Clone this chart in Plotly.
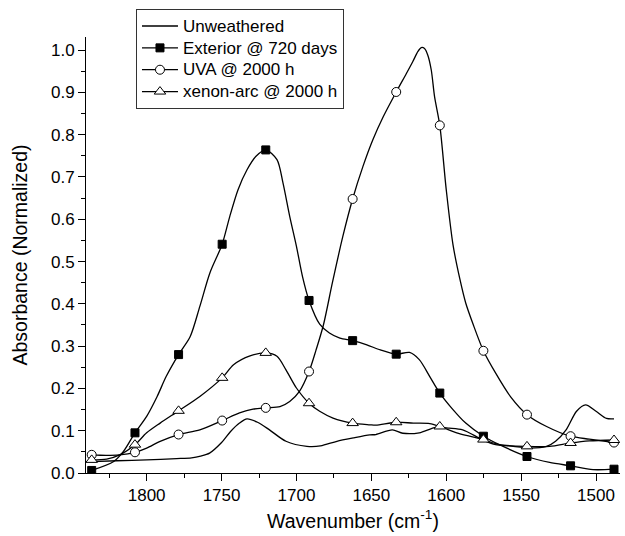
import plotly.graph_objects as go

# ---- data ----
unw_x = [1836.7, 1820, 1800, 1780, 1770, 1764, 1758, 1750, 1744, 1738, 1733, 1726, 1718, 1707,
         1693, 1684, 1673, 1662, 1651, 1647, 1636, 1629, 1618, 1607, 1598, 1589, 1576, 1567,
         1558, 1544, 1533, 1527, 1520, 1513, 1507, 1500, 1493, 1488]
unw_y = [0.027, 0.029, 0.031, 0.034, 0.036, 0.040, 0.047, 0.072, 0.098, 0.118, 0.128, 0.120, 0.102, 0.075,
         0.063, 0.064, 0.075, 0.083, 0.090, 0.091, 0.102, 0.094, 0.095, 0.108, 0.106, 0.102, 0.079, 0.067,
         0.064, 0.059, 0.063, 0.075, 0.102, 0.146, 0.161, 0.146, 0.129, 0.128]

ext_x = [1836.7, 1822, 1815.5, 1807.8, 1800, 1793, 1787, 1778.7, 1771, 1764.5, 1757.8, 1749.6, 1744.5,
         1739, 1733, 1727, 1720.5, 1713, 1709, 1704.5, 1700, 1696, 1691.6, 1684.5, 1678, 1671,
         1662.5, 1653, 1644, 1633.4, 1624.5, 1618, 1611, 1604.3, 1595.5, 1587, 1575.2, 1564.5,
         1546.1, 1531, 1517.0, 1502, 1488.0]
ext_y = [0.006, 0.027, 0.051, 0.095, 0.134, 0.181, 0.228, 0.280, 0.322, 0.394, 0.473, 0.541, 0.607,
         0.670, 0.717, 0.749, 0.764, 0.741, 0.686, 0.607, 0.536, 0.465, 0.408, 0.352, 0.331, 0.319,
         0.313, 0.303, 0.291, 0.281, 0.285, 0.268, 0.228, 0.189, 0.150, 0.118, 0.087, 0.067,
         0.039, 0.025, 0.017, 0.008, 0.009]

uva_x = [1836.7, 1831, 1818, 1807.8, 1800, 1791, 1778.7, 1764.5, 1749.6, 1738, 1729, 1720.5, 1711,
         1704.5, 1698, 1691.6, 1687, 1682, 1676, 1669, 1662.5, 1655.6, 1649, 1642, 1633.4, 1626.7,
         1622.3, 1618.9, 1616.7, 1614.5, 1612.3, 1610, 1607.8, 1604.3, 1600, 1595.5, 1591, 1587,
         1582, 1575.2, 1567, 1557, 1546.1, 1533, 1517.0, 1504.5, 1488.0]
uva_y = [0.043, 0.042, 0.043, 0.049, 0.059, 0.075, 0.091, 0.102, 0.124, 0.142, 0.151, 0.154, 0.157,
         0.169, 0.193, 0.240, 0.290, 0.350, 0.450, 0.560, 0.648, 0.725, 0.788, 0.843, 0.901, 0.944,
         0.973, 0.997, 1.006, 1.004, 0.988, 0.953, 0.890, 0.822, 0.670, 0.540, 0.460, 0.402,
         0.351, 0.289, 0.236, 0.180, 0.138, 0.110, 0.087, 0.080, 0.072]

xen_x = [1836.7, 1826.7, 1818, 1807.8, 1800, 1791, 1778.7, 1764.5, 1749.6, 1742, 1731, 1720.5, 1713,
         1707, 1700, 1691.6, 1684.5, 1675.6, 1662.5, 1651, 1647, 1633.4, 1622, 1611, 1604.3, 1593,
         1584.5, 1575.2, 1564.5, 1546.1, 1531, 1517.0, 1504.5, 1488.0]
xen_y = [0.031, 0.033, 0.043, 0.067, 0.095, 0.118, 0.147, 0.181, 0.225, 0.256, 0.277, 0.284, 0.276,
         0.244, 0.201, 0.165, 0.146, 0.130, 0.118, 0.114, 0.113, 0.120, 0.118, 0.117, 0.110, 0.095,
         0.087, 0.079, 0.067, 0.063, 0.063, 0.071, 0.076, 0.078]

mark_x = [1836.7, 1807.8, 1778.7, 1749.6, 1720.5, 1691.6, 1662.5, 1633.4, 1604.3, 1575.2, 1546.1, 1517.0, 1488.0]
ext_my = [0.006, 0.095, 0.280, 0.541, 0.764, 0.408, 0.313, 0.281, 0.189, 0.087, 0.039, 0.017, 0.009]
uva_my = [0.043, 0.049, 0.091, 0.124, 0.154, 0.240, 0.648, 0.901, 0.822, 0.289, 0.138, 0.087, 0.072]
xen_my = [0.031, 0.067, 0.147, 0.225, 0.284, 0.165, 0.118, 0.120, 0.110, 0.079, 0.063, 0.071, 0.078]

names = ["Unweathered", "Exterior @ 720 days", "UVA @ 2000 h", "xenon-arc @ 2000 h"]

LINE = dict(color="black", width=1.3, shape="spline", smoothing=0.8)
MARKS = [
    None,
    dict(symbol="square", size=8, color="black", line=dict(color="black", width=1)),
    dict(symbol="circle", size=9, color="white", line=dict(color="black", width=1)),
    dict(symbol="triangle-up", size=10, color="white", line=dict(color="black", width=1)),
]

fig = go.Figure()
curves = [(unw_x, unw_y), (ext_x, ext_y), (uva_x, uva_y), (xen_x, xen_y)]
for cx, cy in curves:
    fig.add_trace(go.Scatter(x=cx, y=cy, mode="lines", line=LINE, showlegend=False, hoverinfo="skip"))
for my, mk in [(ext_my, MARKS[1]), (uva_my, MARKS[2]), (xen_my, MARKS[3])]:
    fig.add_trace(go.Scatter(x=mark_x, y=my, mode="markers", marker=mk, showlegend=False))

# legend entries (text drawn larger than the row height font, as in the reference)
def lg(t):
    return '<span style="font-size:17px">' + t + '</span>'

fig.add_trace(go.Scatter(x=[None], y=[None], mode="lines", line=dict(color="black", width=1.3), name=lg(names[0])))
for i in range(1, 4):
    fig.add_trace(go.Scatter(x=[None], y=[None], mode="lines+markers",
                             line=dict(color="black", width=1.3), marker=MARKS[i], name=lg(names[i])))

FONT = "Arial, Liberation Sans, sans-serif"
fig.update_layout(
    width=625, height=536,
    margin=dict(l=86, r=5, t=37, b=63),
    plot_bgcolor="white", paper_bgcolor="white",
    font=dict(family=FONT, size=17, color="black"),
    legend=dict(x=0.0936, y=1.064, xanchor="left", yanchor="top",
                bgcolor="white", bordercolor="#333", borderwidth=1,
                font=dict(size=14.5), tracegroupgap=0, itemwidth=36),
    xaxis=dict(range=[1840.5, 1484], showgrid=False, zeroline=False,
               showline=True, linecolor="black", linewidth=1,
               ticks="outside", ticklen=7, tickcolor="black", dtick=50, tick0=1500,
               minor=dict(ticks="outside", ticklen=4, dtick=25, tick0=1500, tickcolor="black"),
               title=dict(text="Wavenumber (cm<sup>-1</sup>)", font=dict(size=19.5), standoff=9),
               tickfont=dict(size=17)),
    yaxis=dict(range=[0, 1.031], showgrid=False, zeroline=False,
               showline=True, linecolor="black", linewidth=1,
               ticks="outside", ticklen=7, tickcolor="black", dtick=0.1, tick0=0,
               tickformat=".1f",
               minor=dict(ticks="outside", ticklen=4, dtick=0.05, tick0=0, tickcolor="black"),
               title=dict(text="Absorbance (Normalized)", font=dict(size=19.5), standoff=18),
               tickfont=dict(size=17)),
)

fig.write_html("out.html")
